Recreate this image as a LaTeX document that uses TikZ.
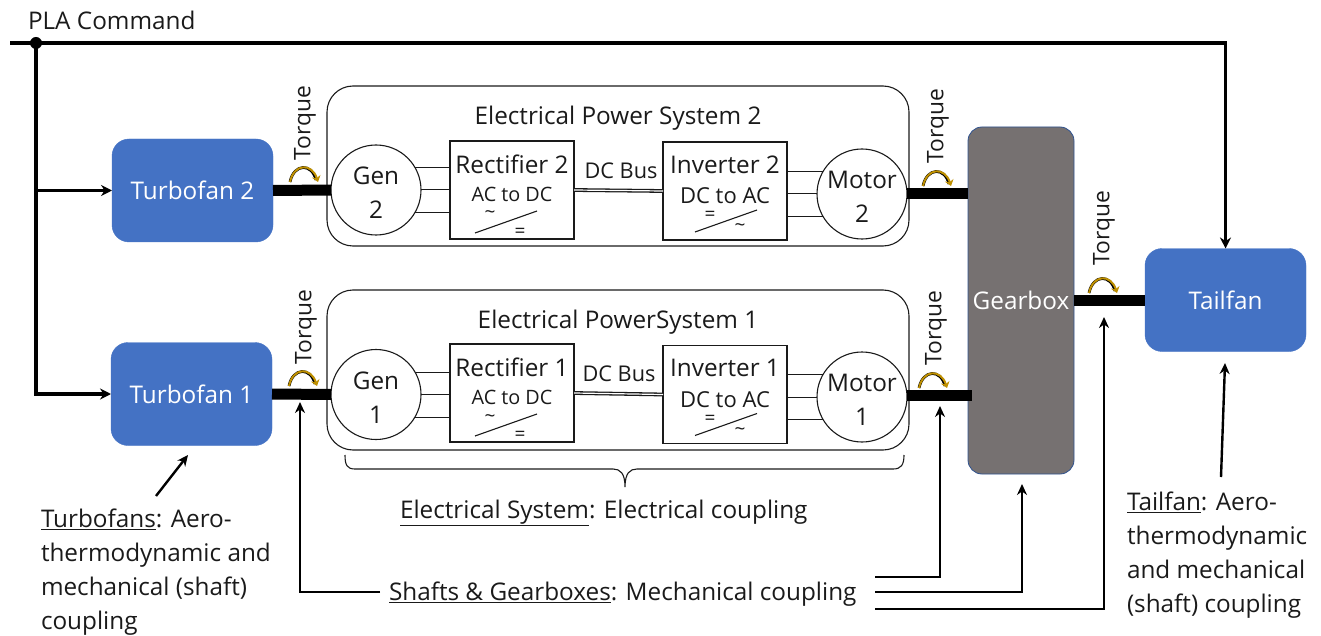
\documentclass[tikz,border=0pt]{standalone}
\usepackage{fontspec}
\setmainfont{Open Sans}
\usetikzlibrary{arrows.meta}
\definecolor{bluefill}{HTML}{4472C4}
\definecolor{bluedge}{HTML}{2F528F}
\definecolor{grayfill}{HTML}{767171}
\definecolor{gold}{HTML}{BF9000}
\definecolor{ink}{HTML}{1A1A1A}
\newcommand{\fa}{\fontsize{24.3}{34}\selectfont}
\newcommand{\fb}{\fontsize{19.8}{22}\selectfont}
\newcommand{\ff}{\fontsize{22}{24}\selectfont}
\newcommand{\fc}{\fontsize{22.8}{24}\selectfont}
\newcommand{\fe}{\fontsize{21.7}{24}\selectfont}
\newcommand{\fd}{\fontsize{19}{18}\selectfont}
\newcommand{\strutup}{\rule{0pt}{23pt}}
\tikzset{
  x=1pt,y=-1pt,
  every node/.style={text=ink,inner sep=0pt,outer sep=0pt},
  lab/.style={font=\fa,align=left},
  engine/.style={draw=bluefill,fill=bluefill,rounded corners=17pt,minimum width=161pt,minimum height=103pt,text=white,font=\fa},
  epsbox/.style={draw=ink,line width=1.1pt,rounded corners=26pt,minimum width=582pt,minimum height=160pt},
  mach/.style={circle,draw=ink,line width=1.1pt,fill=white,minimum size=90pt,font=\fa,align=center},
  conv/.style={draw=ink,line width=1.1pt,fill=white,minimum width=124pt,minimum height=98pt},
  ttl/.style={font=\fa},
  sub/.style={font=\fb},
  subb/.style={font=\ff},
  glyph/.style={font=\fd,text height=4pt,text depth=0pt},
  wire/.style={draw=ink,line width=1pt},
  bus/.style={draw=ink,line width=1.3pt,double=white,double distance=1.2pt},
  shaft/.style={draw=black,line width=11pt},
  sig/.style={draw=black,line width=3.6pt,-{Stealth[length=11pt,width=11pt]}},
  note/.style={draw=black,line width=2.4pt,-{Stealth[length=11pt,width=10pt]}},
  torq/.style={font=\fc,rotate=90},
  rectsym/.pic={
    \draw[ink,line width=1.1pt] (-37,43) -- (25,21);
    \node[glyph] at (-22,27) {\char"007E};
    \node[glyph] at (8,45) {=};
  },
  invsym/.pic={
    \draw[ink,line width=1.1pt] (-30,41) -- (32,19);
    \node[glyph] at (-15,28) {=};
    \node[glyph] at (15,39) {\char"007E};
  },
  turn/.pic={
    \draw[black,line width=2.8pt] (-14,1) .. controls (-10,-18) and (8,-18) .. (12,-1);
    \draw[gold,line width=2pt,-{Stealth[length=6pt,width=9pt]}] (-14,1) .. controls (-10,-18) and (8,-18) .. (14,1);
  },
}
\begin{document}
\begin{tikzpicture}
\useasboundingbox (0,0) rectangle (1321,636);

% main blocks
\node[engine] (tf2) at (192.5,190.5) {Turbofan 2};
\node[engine] (tf1) at (191.5,394) {Turbofan 1};
\node[engine] (tail) at (1225.5,300) {Tailfan};
\node[draw=bluedge,fill=grayfill,line width=.8pt,rounded corners=14pt,minimum width=106pt,minimum height=347pt,text=white,font=\fa] (gb) at (1021,300.5) {Gearbox};

% electrical power systems
\node[epsbox] (eps2) at (618,166) {};
\node[epsbox] (eps1) at (618,370) {};
\node[ttl] (eps2t) at (618,118.5) {Electrical Power System 2};
\node[ttl] (eps1t) at (618,322) {Electrical PowerSystem 1};

% system 2
\node[mach] (g2) at (376,190) {\strutup Gen\\2};
\node[mach] (m2) at (862,194) {\strutup Motor\\2};
\node[conv] (r2) at (512,190) {};
\node[conv] (i2) at (725,191) {};
\node[ttl] (r2t) at (512,164) {Rectifier 2};
\node[sub] (r2s) at (512,194.5) {AC to DC};
\node[ttl] (i2t) at (725,165) {Inverter 2};
\node[subb] (i2s) at (725,196) {DC to AC};
\pic at (r2) {rectsym};
\pic at (i2) {invsym};
\draw[bus] (r2.east) -- (i2.west);
\node[font=\fe] (b2) at (621,171) {DC Bus};
\foreach \a in {30,0,-30}{\draw[wire] (g2.\a) -- (g2.\a -| r2.west);}
\foreach \a in {150,180,210}{\draw[wire] (m2.\a) -- (m2.\a -| i2.east);}

% system 1
\node[mach] (g1) at (376,394.5) {\strutup Gen\\1};
\node[mach] (m1) at (862,397) {\strutup Motor\\1};
\node[conv] (r1) at (512,393) {};
\node[conv] (i1) at (725,394.5) {};
\node[ttl] (r1t) at (512,367) {Rectifier 1};
\node[sub] (r1s) at (512,397) {AC to DC};
\node[ttl] (i1t) at (725,368) {Inverter 1};
\node[subb] (i1s) at (725,399.5) {DC to AC};
\pic at (r1) {rectsym};
\pic at (i1) {invsym};
\draw[bus] (r1.east) -- (i1.west);
\node[font=\fe] (b1) at (619,374) {DC Bus};
\foreach \a in {30,0,-30}{\draw[wire] (g1.\a) -- (g1.\a -| r1.west);}
\foreach \a in {150,180,210}{\draw[wire] (m1.\a) -- (m1.\a -| i1.east);}

% shafts
\draw[shaft] (tf2.east) -- (g2.west);
\draw[shaft] (tf1.east) -- (g1.west);
\draw[shaft] (m2.east) -- (m2.east -| gb.west);
\draw[shaft] ([yshift=2pt]m1.east) -- ([xshift=4pt,yshift=2pt]m1.east -| gb.west);
\draw[shaft] (gb.east |- tail.west) -- (tail.west);

% torque marks
\pic at (304,181) {turn};
\pic at (303,385) {turn};
\pic at (937,185) {turn};
\pic at (933,387) {turn};
\pic at (1103,292) {turn};
\node[torq] (t1) at (305,123) {Torque};
\node[torq] (t2) at (306,327) {Torque};
\node[torq] (t3) at (938,126) {Torque};
\node[torq] (t4) at (936,328) {Torque};
\node[torq] (t5) at (1104,228) {Torque};

% PLA command
\node[font=\fa,anchor=west] (pla) at (28,20) {PLA Command};
\coordinate (plas) at (10,43);
\coordinate (plaj) at (36,43);
\draw[draw=black,line width=3.6pt] (plas) -- (plaj);
\draw[sig] (plaj) -- (plaj -| tail.north) -- (tail.north);
\draw[sig] (plaj) -- (plaj |- tf1.west) -- (tf1.west);
\draw[sig] (plaj |- tf2.west) -- (tf2.west);
\fill[black] (plaj) circle (6pt);

% notes
\node[lab,anchor=north west] (ntf) at (41,509) {\underline{Turbofans}: Aero-\\thermodynamic and\\mechanical (shaft)\\coupling};
\node[lab,anchor=north west] (ntl) at (1127,492) {\underline{Tailfan}: Aero-\\thermodynamic\\and mechanical\\(shaft) coupling};
\node[lab,anchor=west] (nel) at (400,513) {\underline{Electrical System}: Electrical coupling};
\node[lab,anchor=west] (nsh) at (389,594) {\underline{Shafts \& Gearboxes}: Mechanical coupling};

\coordinate (ntfa) at (156,496);
\coordinate (tfat) at (188,455);
\draw[note] (ntfa) -- (tfat);
\coordinate (ntla) at (1221,477);
\coordinate (tlat) at (1225,363);
\draw[note] (ntla) -- (tlat);

\coordinate (s0) at (300,402);
\coordinate (s0a) at (380,592);
\draw[note] (s0a) -| (s0);
\coordinate (s1a) at (875,577);
\coordinate (s1) at (940,406);
\draw[note] (s1a) -| (s1);
\coordinate (s2a) at (875,592);
\coordinate (s2) at (1022,484);
\draw[note] (s2a) -| (s2);
\coordinate (s3a) at (875,609);
\coordinate (s3) at (1104,317);
\draw[note] (s3a) -| (s3);

% brace
\draw[ink,line width=1.1pt] (345,455) .. controls (345,465) and (347,469) .. (355,469) -- (613,469) .. controls (620,469) and (625,473) .. (625,487) .. controls (625,473) and (630,469) .. (637,469) -- (893,469) .. controls (901,469) and (904,465) .. (904,455);
\end{tikzpicture}
\end{document}
